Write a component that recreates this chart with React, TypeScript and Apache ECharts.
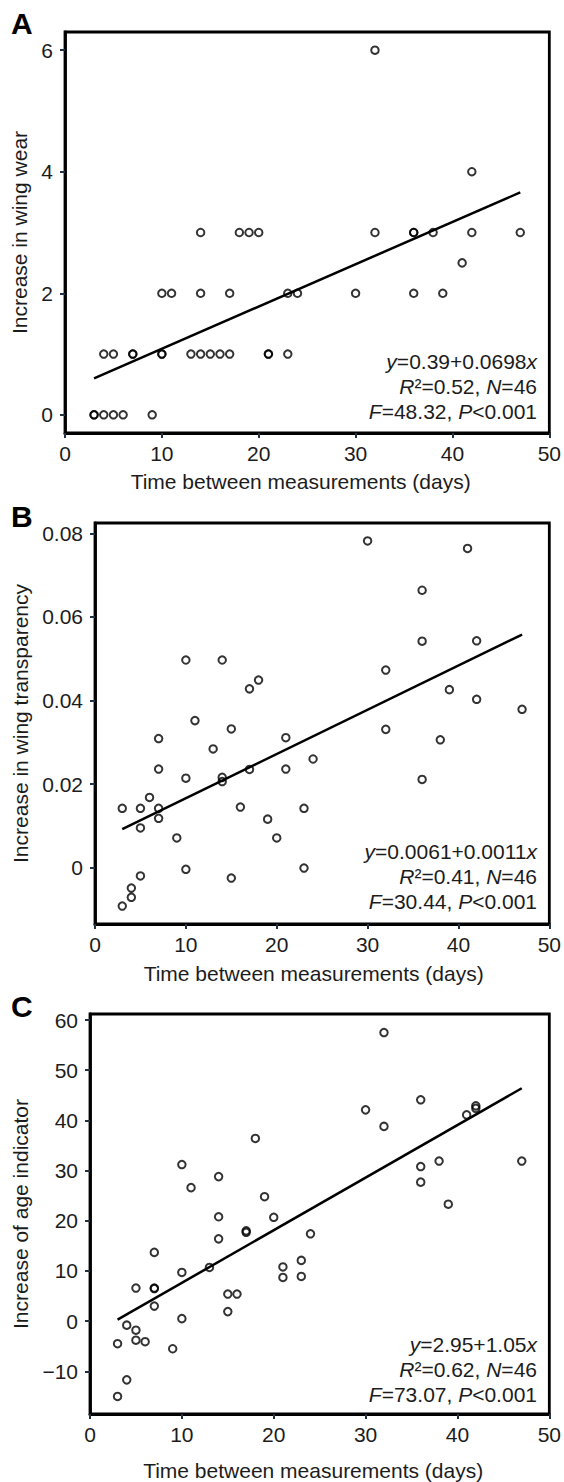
import React, { useEffect, useRef } from "react";
import * as echarts from "echarts";

// ---------- data ----------
const daysA = [3, 3, 4, 5, 6, 9, 4, 5, 7, 7, 10, 10, 13, 14, 15, 16, 17, 21, 21, 23, 10, 11, 14, 17, 23, 24, 30, 36, 39, 14, 18, 19, 20, 32, 36, 36, 38, 42, 47, 41, 42, 32];
const wearA = [0, 0, 0, 0, 0, 0, 1, 1, 1, 1, 1, 1, 1, 1, 1, 1, 1, 1, 1, 1, 2, 2, 2, 2, 2, 2, 2, 2, 2, 3, 3, 3, 3, 3, 3, 3, 3, 3, 3, 2.5, 4, 6];

const daysB = [3, 5, 6, 7, 7, 7, 7, 5, 9, 10, 10, 10, 11, 13, 14, 14, 14, 15, 15, 16, 17, 17, 18, 19, 20, 21, 21, 3, 4, 4, 5, 30, 41, 36, 36, 42, 32, 39, 42, 47, 32, 38, 24, 36, 23, 23];
const transpB = [0.0142, 0.0142, 0.0168, 0.0309, 0.0236, 0.0142, 0.0118, 0.0095, 0.0071, 0.0497, 0.0214, -0.0004, 0.0352, 0.0284, 0.0497, 0.0216, 0.0206, 0.0332, -0.0025, 0.0145, 0.0428, 0.0235, 0.0449, 0.0116, 0.0071, 0.0311, 0.0236, -0.0092, -0.0049, -0.0071, -0.002, 0.0782, 0.0764, 0.0664, 0.0542, 0.0543, 0.0473, 0.0426, 0.0403, 0.0379, 0.0331, 0.0306, 0.026, 0.0211, 0.0142, -0.0001];

const daysC = [3, 3, 4, 4, 5, 5, 5, 6, 7, 7, 7, 7, 9, 10, 10, 10, 11, 13, 14, 14, 14, 15, 15, 16, 17, 17, 18, 19, 20, 21, 21, 23, 23, 24, 30, 32, 32, 36, 36, 36, 38, 39, 41, 42, 42, 47];
const ageC = [-4.5, -15.0, -0.8, -11.7, 6.6, -1.8, -3.8, -4.1, 13.7, 6.5, 6.6, 3.0, -5.5, 31.2, 9.7, 0.5, 26.6, 10.7, 28.8, 20.8, 16.4, 5.4, 1.9, 5.4, 18.0, 17.7, 36.4, 24.8, 20.7, 10.8, 8.7, 12.1, 8.9, 17.4, 42.1, 57.5, 38.8, 44.1, 30.8, 27.7, 31.9, 23.3, 41.1, 42.9, 42.4, 31.9];

// regression line end points (as drawn)
const fitA = [[3, 0.6], [47, 3.66]];
const fitB = [[3, 0.0092], [47, 0.0558]];
const fitC = [[3, 0.3], [47, 46.4]];

// tick values
const xTicks = [0, 10, 20, 30, 40, 50];
const yTicksA = [0, 2, 4, 6];
const yTicksB = [0, 0.02, 0.04, 0.06, 0.08];
const yTicksC = [-10, 0, 10, 20, 30, 40, 50, 60];

const panelLetters = ["A", "B", "C"];
const yNames = ["Increase in wing wear", "Increase in wing transparency", "Increase of age indicator"];
const xName = "Time between measurements (days)";

const statsA = ["{i|y}{n|=0.39+0.0698}{i|x}", "{i|R}{n|²=0.52, }{i|N}{n|=46}", "{i|F}{n|=48.32, }{i|P}{n|<0.001}"];
const statsB = ["{i|y}{n|=0.0061+0.0011}{i|x}", "{i|R}{n|²=0.41, }{i|N}{n|=46}", "{i|F}{n|=30.44, }{i|P}{n|<0.001}"];
const statsC = ["{i|y}{n|=2.95+1.05}{i|x}", "{i|R}{n|²=0.62, }{i|N}{n|=46}", "{i|F}{n|=73.07, }{i|P}{n|<0.001}"];

// ---------- style ----------
const FONT = '"Liberation Sans", Arial, Helvetica, sans-serif';
const TXT = "#1c1c1c";
const TICK = "#233343";

const zip = (xs: number[], ys: number[]) => xs.map((x, i) => [x, ys[i]]);

function App() {
  const ref = useRef<HTMLDivElement>(null);

  useEffect(() => {
    document.body.style.margin = "0";
    if (!ref.current) return;
    const chart = echarts.init(ref.current, null, { renderer: "svg" });

    const grids = [
      { left: 65, top: 32, width: 485, height: 401 },
      { left: 95, top: 523, width: 455, height: 401 },
      { left: 90, top: 1014, width: 460, height: 401 },
    ].map((g) => ({ ...g, show: true, borderColor: "#000", borderWidth: 2.8, backgroundColor: "transparent", containLabel: false }));

    const xNameShift = [13, 17, 13];
    const xNameGap = [38, 39, 46];
    const xAxes = [0, 1, 2].map((i) => ({
      type: "value",
      gridIndex: i,
      min: 0,
      max: 50,
      interval: 10,
      axisLine: { show: true, onZero: false, lineStyle: { color: "#000", width: 2.8 } },
      axisTick: { show: true, length: 5, lineStyle: { color: TICK, width: 2 }, customValues: xTicks },
      axisLabel: { fontSize: 21, color: TXT, fontFamily: FONT, margin: 10, customValues: xTicks },
      splitLine: { show: false },
      name: xName,
      nameLocation: "middle",
      nameGap: xNameGap[i],
      nameTextStyle: { fontSize: 21, color: TXT, fontFamily: FONT, padding: [0, xNameShift[i], 0, 0] },
    }));

    const yCfg = [
      { min: -0.3, max: 6.3, ticks: yTicksA, gap: 34, fmt: (v: number) => String(v) },
      { min: -0.0135, max: 0.0825, ticks: yTicksB, gap: 62, fmt: (v: number) => (Math.abs(v) < 1e-9 ? "0" : v.toFixed(2)) },
      { min: -18.5, max: 61.2, ticks: yTicksC, gap: 58, fmt: (v: number) => (v < 0 ? "\u2212" + Math.abs(v) : String(v)) },
    ];
    const yAxes = yCfg.map((c, i) => ({
      type: "value",
      gridIndex: i,
      min: c.min,
      max: c.max,
      axisLine: { show: true, onZero: false, lineStyle: { color: "#000", width: 2.8 } },
      axisTick: { show: true, length: 5, lineStyle: { color: TICK, width: 2 }, customValues: c.ticks },
      axisLabel: { fontSize: 21, color: TXT, fontFamily: FONT, margin: 12, customValues: c.ticks, formatter: c.fmt },
      splitLine: { show: false },
      name: yNames[i],
      nameLocation: "middle",
      nameGap: c.gap,
      nameTextStyle: { fontSize: 21, color: TXT, fontFamily: FONT },
    }));

    const scatterStyle = {
      type: "scatter",
      symbol: "circle",
      symbolSize: 7.5,
      itemStyle: { color: "rgba(0,0,0,0)", borderColor: "#000", borderWidth: 2 },
      silent: true,
    };
    const lineStyle = {
      type: "line",
      symbol: "none",
      lineStyle: { color: "#000", width: 2.5 },
      silent: true,
    };

    const series = [
      { ...scatterStyle, xAxisIndex: 0, yAxisIndex: 0, data: zip(daysA, wearA) },
      { ...lineStyle, xAxisIndex: 0, yAxisIndex: 0, data: fitA },
      { ...scatterStyle, xAxisIndex: 1, yAxisIndex: 1, data: zip(daysB, transpB) },
      { ...lineStyle, xAxisIndex: 1, yAxisIndex: 1, data: fitB },
      { ...scatterStyle, xAxisIndex: 2, yAxisIndex: 2, data: zip(daysC, ageC) },
      { ...lineStyle, xAxisIndex: 2, yAxisIndex: 2, data: fitC },
    ];

    const rich = {
      i: { fontStyle: "italic", fontSize: 21, fontFamily: FONT, fill: TXT, color: TXT },
      n: { fontSize: 21, fontFamily: FONT, fill: TXT, color: TXT },
    };
    const statLines = (lines: string[], ys: number[]) =>
      lines.map((t, k) => ({
        type: "text",
        right: 27,
        top: ys[k] - 11,
        style: { text: t, rich, fontSize: 21, fontFamily: FONT, fill: TXT, align: "right" },
        silent: true,
      }));

    const letterTops = [11, 504, 994];
    const letters = panelLetters.map((L, i) => ({
      type: "text",
      left: 11,
      top: letterTops[i] - 3,
      style: { text: L, fontSize: 30, fontWeight: "bold", fontFamily: FONT, fill: "#000" },
      silent: true,
    }));

    chart.setOption({
      animation: false,
      grid: grids,
      xAxis: xAxes,
      yAxis: yAxes,
      series,
      graphic: [
        ...letters,
        ...statLines(statsA, [362, 387, 412]),
        ...statLines(statsB, [852, 877, 902]),
        ...statLines(statsC, [1345, 1370, 1395]),
      ],
    });

    return () => chart.dispose();
  }, []);

  return <div ref={ref} style={{ width: 564, height: 1482 }} />;
}

export default App;
